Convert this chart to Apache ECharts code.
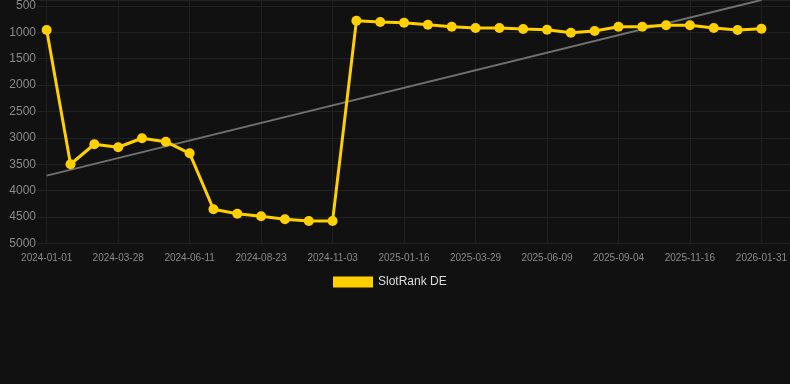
<!DOCTYPE html>
<html>
<head>
<meta charset="utf-8">
<script src="https://cdn.jsdelivr.net/npm/echarts@6/dist/echarts.min.js"></script>
<style>
html,body{margin:0;padding:0;background:#111111;}
#chart{width:790px;height:384px;}
</style>
</head>
<body>
<div id="chart"></div>
<script>
var categories = ['2024-01-01','2024-01-30','2024-02-28','2024-03-28','2024-04-22','2024-05-17','2024-06-11','2024-07-05','2024-07-29','2024-08-23','2024-09-16','2024-10-10','2024-11-03','2024-11-27','2024-12-22','2025-01-16','2025-02-09','2025-03-05','2025-03-29','2025-04-22','2025-05-16','2025-06-09','2025-07-08','2025-08-06','2025-09-04','2025-09-28','2025-10-22','2025-11-16','2025-12-11','2026-01-05','2026-01-31'];
var rankValues = [955,3501,3122,3179,3008,3073,3293,4354,4438,4487,4544,4576,4576,778,803,816,854,892,917,917,936,949,1006,974,892,892,866,866,917,955,930];
var trendPoints = [['2024-01-01',3717],['2026-01-31',386]];
var seriesName = 'SlotRank DE';
var yMin = 386, yMax = 5000;

var chart = echarts.init(document.getElementById('chart'));
var fontFam = 'Liberation Sans, Arial, sans-serif';
chart.setOption({
  backgroundColor: '#111111',
  animation: false,
  legend: {
    data: [{name: seriesName, icon: 'rect'}],
    left: 328, top: 271,
    itemWidth: 40, itemHeight: 11,
    textStyle: {color: '#dddddd', fontSize: 12, fontFamily: fontFam}
  },
  grid: [
    {left: 37, right: 0, top: 0, bottom: 140.7},
    {left: 46.7, right: 28.3, top: 0, bottom: 140.7}
  ],
  xAxis: [
    {gridIndex: 0, type: 'value', min: 0, max: 1, show: false},
    {gridIndex: 1, type: 'category', data: categories, boundaryGap: false,
     axisLine: {show: false}, axisTick: {show: false},
     axisLabel: {interval: 2, color: '#8a8a8a', fontSize: 10, fontFamily: fontFam, margin: 10},
     splitLine: {show: true, interval: 2, lineStyle: {color: '#1f1f1f', width: 1}}}
  ],
  yAxis: [
    {gridIndex: 0, type: 'value', inverse: true, min: yMin, max: yMax, splitNumber: 9,
     axisLine: {show: false}, axisTick: {show: false},
     axisLabel: {color: '#8a8a8a', fontSize: 12, fontFamily: fontFam, margin: 1, showMinLabel: false,
                 formatter: function (v) { return String(v); }},
     splitLine: {show: true, lineStyle: {color: '#222222', width: 1}}},
    {gridIndex: 1, type: 'value', inverse: true, min: yMin, max: yMax, splitNumber: 9, show: false,
     splitLine: {show: false}}
  ],
  series: [
    {name: 'trend', type: 'line', xAxisIndex: 1, yAxisIndex: 1, data: trendPoints,
     symbol: 'none', clip: false, silent: true,
     lineStyle: {color: '#707070', width: 2}},
    {name: seriesName, type: 'line', xAxisIndex: 1, yAxisIndex: 1, data: rankValues,
     symbol: 'circle', symbolSize: 10,
     itemStyle: {color: '#ffd000'},
     lineStyle: {color: '#ffd000', width: 3}}
  ]
});
</script>
</body>
</html>
